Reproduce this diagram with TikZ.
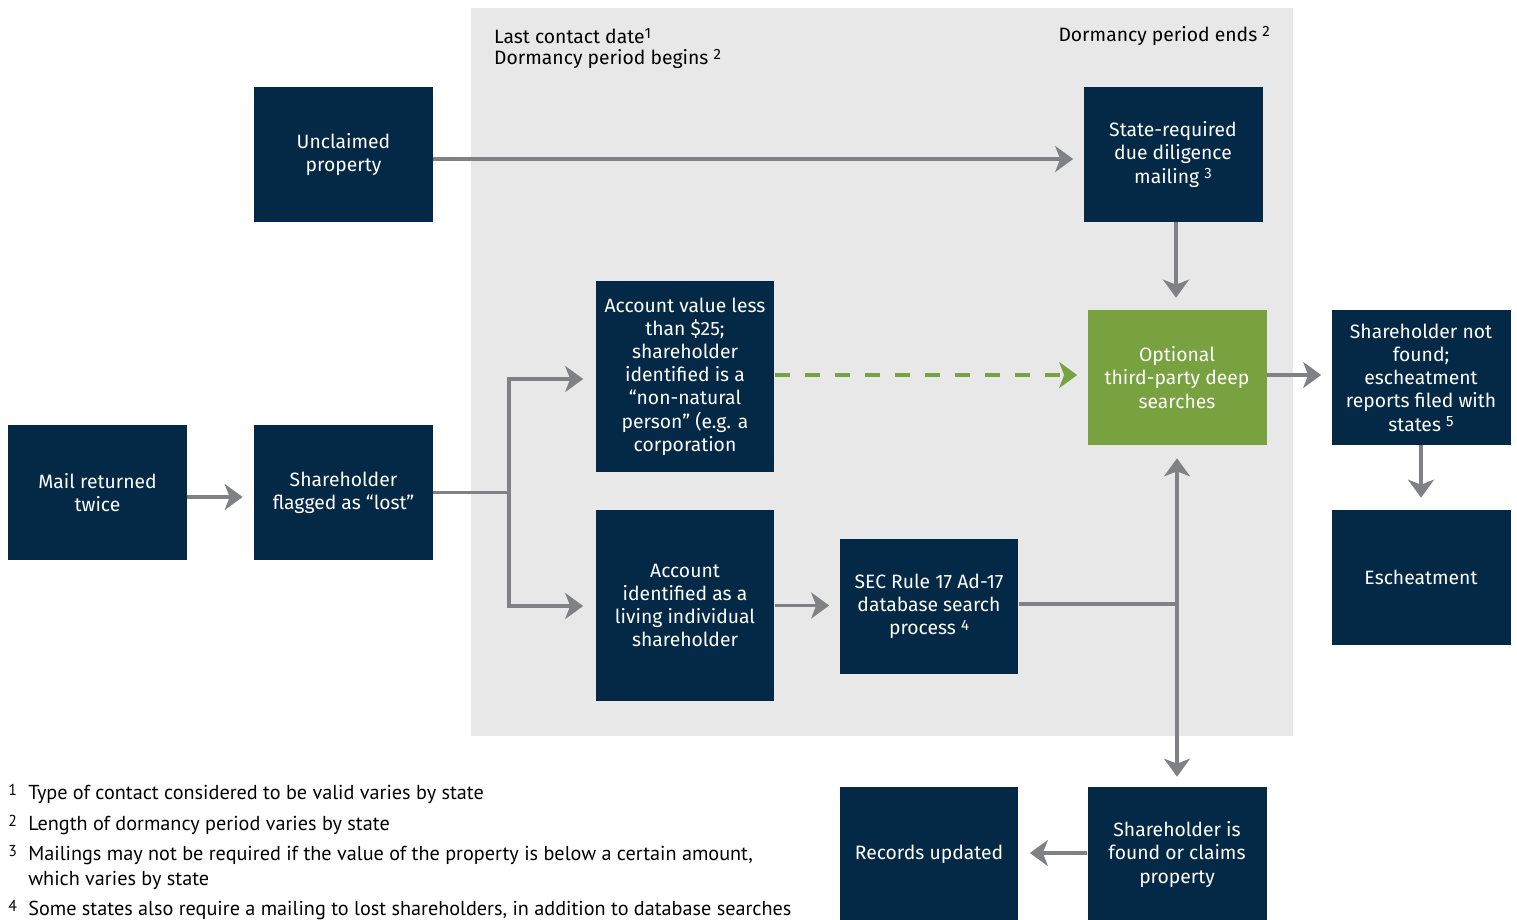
\documentclass[tikz,border=0pt]{standalone}
\usepackage{fontspec}
\setmainfont{Fira Sans}
\newfontfamily\notefont{PT Sans}
\usetikzlibrary{arrows.meta,calc,positioning}

\definecolor{navy}{RGB}{4,41,70}
\definecolor{leaf}{RGB}{120,161,64}
\definecolor{panel}{RGB}{232,232,232}
\definecolor{wire}{RGB}{128,129,133}

\newcommand{\fnmark}[1]{\raisebox{0.45ex}{\fontsize{8.5}{9}\selectfont #1}}

\tikzset{
  box/.style={fill=navy,text=white,minimum width=3.58cm,minimum height=2.7cm,
    inner sep=0pt,align=center,font=\fontsize{11}{13.2}\selectfont},
  tallbox/.style={box,minimum height=3.82cm},
  greenbox/.style={box,fill=leaf},
  wireline/.style={draw=wire,line width=2pt},
  arr/.style={wireline,-{Stealth[length=0.36cm,width=0.52cm,inset=0.1cm]}},
  dasharr/.style={draw=leaf,line width=2.4pt,dash pattern=on 0.3cm off 0.3cm,
    -{Stealth[length=0.36cm,width=0.52cm,inset=0.1cm]}},
  label/.style={font=\fontsize{11}{13.2}\selectfont},
  note/.style={font=\notefont\fontsize{11.5}{14}\selectfont,inner sep=0pt},
  notenum/.style={font=\notefont\fontsize{9}{10}\selectfont,inner sep=0pt}
}

\begin{document}
\begin{tikzpicture}[x=0.02cm,y=-0.02cm]
    \useasboundingbox (0,0) rectangle (1517,919);
    \begin{scope}
      \clip (0,0) rectangle (1517,919);
      % grey dormancy panel
      \fill[panel] (471,8) rectangle (1293,736);
      \node[label,anchor=west] (lastdate) at (488,36) {Last contact date\fnmark{1}};
      \node[label,anchor=west] (dormbegin) at (488,59) {Dormancy period begins \fnmark{2}};
      \node[label,anchor=east] (dormend) at (1276,36) {Dormancy period ends \fnmark{2}};
      % boxes
      \node[box] (unclaimed) at (343.5,154.5) {Unclaimed\\property};
      \node[box] (duemail) at (1173,154.5) {State-required\\due diligence\\mailing \fnmark{3}};
      \node[tallbox] (lessval) at (685,376.5) {Account value less\\than \$25;\\shareholder\\identified is a\\``non-natural\\person'' (e.g. a\\corporation};
      \node[greenbox] (deep) at (1177,377.5) {Optional\\third-party deep\\searches};
      \node[box] (notfound) at (1421,377.5) {Shareholder not\\found;\\escheatment\\reports filed with\\states \fnmark{5}};
      \node[box] (mail) at (97.5,492.5) {Mail returned\\twice};
      \node[box] (lost) at (343.5,492.5) {Shareholder\\flagged as ``lost''};
      \node[tallbox] (living) at (685,605.5) {Account\\identified as a\\living individual\\shareholder};
      \node[box] (sec) at (929,606.5) {SEC Rule 17 Ad-17\\database search\\process \fnmark{4}};
      \node[box] (escheat) at (1421,577.5) {Escheatment};
      \node[box] (records) at (929,854.5) {Records updated};
      \node[box] (found) at (1177,854.5) {Shareholder is\\found or claims\\property};
      % connectors
      \draw[arr] (unclaimed.east |- 0,159) -- ([xshift=-0.2cm]duemail.west |- 0,159);
      \draw[arr] (duemail.south -| 1176,0) -- ([yshift=0.24cm]deep.north -| 1176,0);
      \draw[dasharr] (lessval.east |- 0,375) -- ([xshift=-0.2cm]deep.west |- 0,375);
      \draw[arr] (deep.east |- 0,375) -- ([xshift=-0.2cm]notfound.west |- 0,375);
      \draw[arr] (notfound.south) -- ([yshift=0.24cm]escheat.north);
      \draw[arr] (mail.east |- 0,497) -- ([xshift=-0.22cm]lost.west |- 0,497);
      \coordinate (split) at (509,492.5);
      \draw[wireline] (lost.east) -- (split);
      \draw[arr] (split) |- ([xshift=-0.24cm]lessval.west |- 0,379);
      \draw[arr] (split) |- ([xshift=-0.24cm]living.west |- 0,606);
      \draw[arr] (living.east) -- ([xshift=-0.2cm]sec.west |- living.east);
      \coordinate (join) at (deep.south |- 0,604);
      \draw[wireline] (sec.east |- join) -- (join);
      \draw[arr] (join) -- ([yshift=-0.26cm]deep.south);
      \draw[arr] (join) -- ([yshift=0.2cm]found.north);
      \draw[arr] (found.west |- 0,853) -- ([xshift=0.22cm]records.east |- 0,853);
      % footnotes
      \node[notenum,anchor=west] (n1) at (8,790) {1};
      \node[note,anchor=west] (t1) at (28,794) {Type of contact considered to be valid varies by state};
      \node[notenum,anchor=west] (n2) at (8,821) {2};
      \node[note,anchor=west] (t2) at (28,825) {Length of dormancy period varies by state};
      \node[notenum,anchor=west] (n3) at (8,851) {3};
      \node[note,anchor=north west,align=left] (t3) at (28,846) {Mailings may not be required if the value of the property is below a certain amount,\\which varies by state};
      \node[notenum,anchor=west] (n4) at (8,906) {4};
      \node[note,anchor=west] (t4) at (28,910) {Some states also require a mailing to lost shareholders, in addition to database searches};
    \end{scope}
\end{tikzpicture}
\end{document}
